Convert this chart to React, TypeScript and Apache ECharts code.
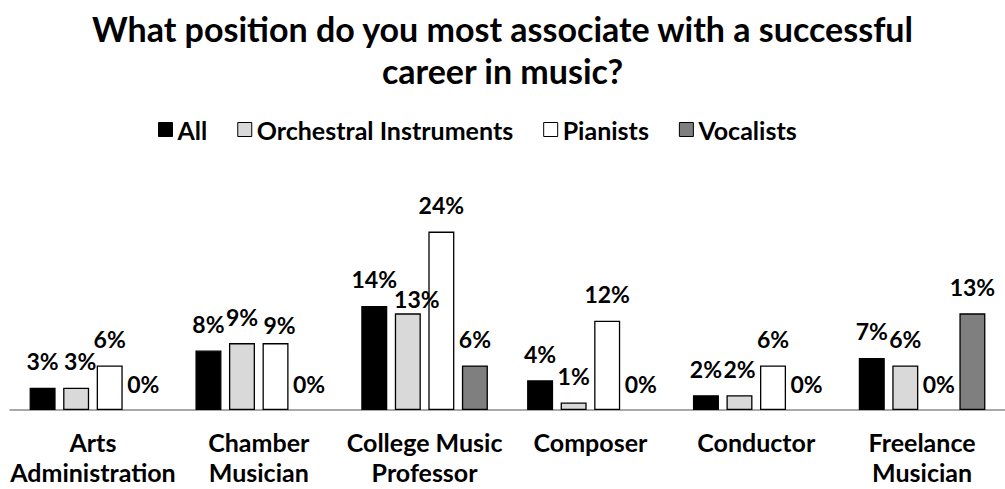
import React, { useEffect, useRef } from "react";
import * as echarts from "echarts";

const categories = [
  "Arts\nAdministration",
  "Chamber\nMusician",
  "College Music\nProfessor",
  "Composer",
  "Conductor",
  "Freelance\nMusician",
];
const seriesNames = ["All", "Orchestral Instruments", "Pianists", "Vocalists"];
const allValues = [3, 8, 14, 4, 2, 7];
const orchestralValues = [3, 9, 13, 1, 2, 6];
const pianistValues = [6, 9, 24, 12, 6, 0];
const vocalistValues = [0, 0, 6, 0, 0, 13];

const FONT = "Lato";

export default function App() {
  const ref = useRef<HTMLDivElement>(null);
  useEffect(() => {
    document.body.style.margin = "0";
    if (!ref.current) return;
    const chart = echarts.init(ref.current, null, { renderer: "svg" });
    const colors = ["#000000", "#d9d9d9", "#ffffff", "#7f7f7f"];
    const values = [allValues, orchestralValues, pianistValues, vocalistValues];
    // manual label nudges seen in the reference (series index, category index) -> offset
    const nudges: Record<string, number[]> = { "1-2": [9, 12], "2-1": [4, 8], "1-0": [4, 0] };
    const series = values.map((vals, si) => ({
      name: seriesNames[si],
      type: "bar",
      barWidth: 26,
      barGap: "29%",
      data: vals.map((v, ci) => {
        const n = nudges[`${si}-${ci}`];
        const item: any = { value: v };
        if (n) item.label = { offset: n };
        if (v === 0) item.itemStyle = { borderWidth: 0 };
        return item;
      }),
      itemStyle: { color: colors[si], borderColor: "#000", borderWidth: 1.3 },
      label: {
        show: true,
        position: "top",
        distance: 15,
        formatter: "{c}%",
        fontFamily: FONT,
        fontWeight: "bold",
        fontSize: 23,
        color: "#000",
      },
    }));
    chart.setOption({
      animation: false,
      backgroundColor: "#fff",
      title: {
        text: "What position do you most associate with a successful\ncareer in music?",
        left: "center",
        top: 2,
        textStyle: {
          fontFamily: FONT,
          fontWeight: "bold",
          fontSize: 34,
          lineHeight: 42,
          color: "#000",
        },
      },
      legend: {
        top: 112,
        left: 153,
        itemWidth: 14,
        itemHeight: 14,
        itemGap: 30,
        icon: "rect",
        textStyle: { fontFamily: FONT, fontWeight: "bold", fontSize: 25, color: "#000" },
        data: seriesNames.map((n, i) => ({
          name: n,
          itemStyle: { color: colors[i], borderColor: "#000", borderWidth: 1 },
        })),
      },
      grid: { left: 10, width: 1003, top: 187, bottom: 79, containLabel: false },
      xAxis: {
        type: "category",
        data: categories,
        axisLine: { lineStyle: { color: "#8c8c8c", width: 1.5 } },
        axisTick: { show: false },
        axisLabel: {
          interval: 0,
          margin: 17,
          fontFamily: FONT,
          fontWeight: "bold",
          fontSize: 25,
          lineHeight: 30,
          color: "#000",
        },
      },
      yAxis: {
        type: "value",
        min: 0,
        max: 30,
        show: false,
        splitLine: { show: false },
      },
      series,
    });
    return () => chart.dispose();
  }, []);
  return <div ref={ref} style={{ width: 1005, height: 489 }} />;
}
